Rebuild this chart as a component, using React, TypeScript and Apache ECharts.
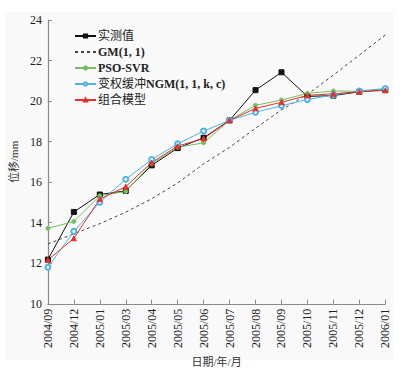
import React, { useEffect, useRef } from "react";
import * as echarts from "echarts";

const categories = [
  "2004/09", "2004/12", "2005/01", "2005/03", "2005/04", "2005/05", "2005/06",
  "2005/07", "2005/08", "2005/09", "2005/10", "2005/11", "2005/12", "2006/01",
];
const measured = [12.18, 14.53, 15.39, 15.57, 16.83, 17.68, 18.19, 19.05, 20.54, 21.42, 20.23, 20.27, 20.46, 20.56];
const gm11 = [12.95, 13.45, 13.95, 14.52, 15.18, 15.96, 16.9, 17.72, 18.66, 19.57, 20.33, 21.28, 22.27, 23.26];
const psoSvr = [13.72, 14.06, 15.33, 15.54, 16.9, 17.72, 17.94, 19.05, 19.79, 20.05, 20.38, 20.5, 20.48, 20.6];
const ngm = [11.8, 13.57, 15.01, 16.14, 17.12, 17.89, 18.52, 19.05, 19.45, 19.77, 20.08, 20.3, 20.5, 20.62];
const combined = [12.16, 13.23, 15.16, 15.78, 16.97, 17.78, 18.15, 19.05, 19.64, 19.94, 20.28, 20.36, 20.46, 20.53];
const yTicks = { min: 10, max: 24, interval: 2 };

const SERIF = "'Liberation Serif', 'Noto Sans CJK SC', serif";

export default function App() {
  const ref = useRef<HTMLDivElement>(null);
  useEffect(() => {
    if (!ref.current) return;
    const chart = echarts.init(ref.current, undefined, { renderer: "svg" });
    const mk = (name: string, data: number[], color: string, symbol: string, size: number, dashed = false) => ({
      name,
      type: "line",
      data,
      symbol: dashed ? "none" : symbol,
      showSymbol: !dashed,
      symbolSize: size,
      itemStyle: { color, borderColor: color, borderWidth: 1 },
      lineStyle: { color, width: 1, type: dashed ? [3, 3] : "solid" },
      emphasis: { disabled: true },
    });
    chart.setOption({
      animation: false,
      backgroundColor: "#ffffff",
      graphic: [
        { type: "rect", z: -10, shape: { x: 5, y: 12, width: 388, height: 348 }, style: { fill: "#f9f9f9" }, silent: true },
      ],
      grid: { left: 44, right: 18.7, top: 20, bottom: 67, containLabel: false },
      legend: {
        orient: "vertical",
        left: 69,
        top: 25,
        itemWidth: 21,
        itemHeight: 4,
        itemGap: 4,
        textStyle: {
          fontFamily: SERIF,
          fontSize: 12,
          color: "#222",
          padding: [0, 0, 0, -3],
          rich: {
            b: { fontFamily: SERIF, fontSize: 12, fontWeight: "bold", color: "#222" },
          },
        },
        formatter: (name: string) => name.replace(/([A-Za-z0-9(), \-]+)/g, "{b|$1}"),
        data: [
          "实测值",
          { name: "GM(1, 1)", itemStyle: { opacity: 0 } },
          "PSO-SVR",
          "变权缓冲NGM(1, 1, k, c)",
          "组合模型",
        ],
      },
      xAxis: {
        type: "category",
        data: categories,
        boundaryGap: false,
        name: "日期/年/月",
        nameLocation: "middle",
        nameGap: 47,
        nameTextStyle: { fontFamily: SERIF, fontSize: 11, color: "#333" },
        axisLine: { lineStyle: { color: "#8a8a8a", width: 1.2 } },
        axisTick: { inside: true, length: 4, alignWithLabel: true, lineStyle: { color: "#8a8a8a" } },
        axisLabel: { rotate: 90, fontFamily: SERIF, fontSize: 12, color: "#222", margin: 5, interval: 0 },
        splitLine: { show: false },
      },
      yAxis: {
        type: "value",
        min: yTicks.min,
        max: yTicks.max,
        interval: yTicks.interval,
        name: "位移/mm",
        nameLocation: "middle",
        nameRotate: 90,
        nameGap: 27,
        nameTextStyle: { fontFamily: SERIF, fontSize: 11, color: "#333" },
        axisLine: { show: true, lineStyle: { color: "#8a8a8a", width: 1.2 } },
        axisTick: { show: true, inside: true, length: 4, lineStyle: { color: "#8a8a8a" } },
        axisLabel: { fontFamily: SERIF, fontSize: 12, color: "#222", margin: 6 },
        splitLine: { show: false },
      },
      series: [
        mk("实测值", measured, "#111111", "rect", 5),
        mk("GM(1, 1)", gm11, "#444444", "none", 0, true),
        mk("PSO-SVR", psoSvr, "#72c05f", "circle", 4),
        mk("变权缓冲NGM(1, 1, k, c)", ngm, "#4db2e6", "emptyCircle", 5),
        mk("组合模型", combined, "#e6302b", "triangle", 5),
      ],
    });
    return () => chart.dispose();
  }, []);
  return <div ref={ref} style={{ position: "absolute", left: 0, top: 0, width: 404, height: 372 }} />;
}
